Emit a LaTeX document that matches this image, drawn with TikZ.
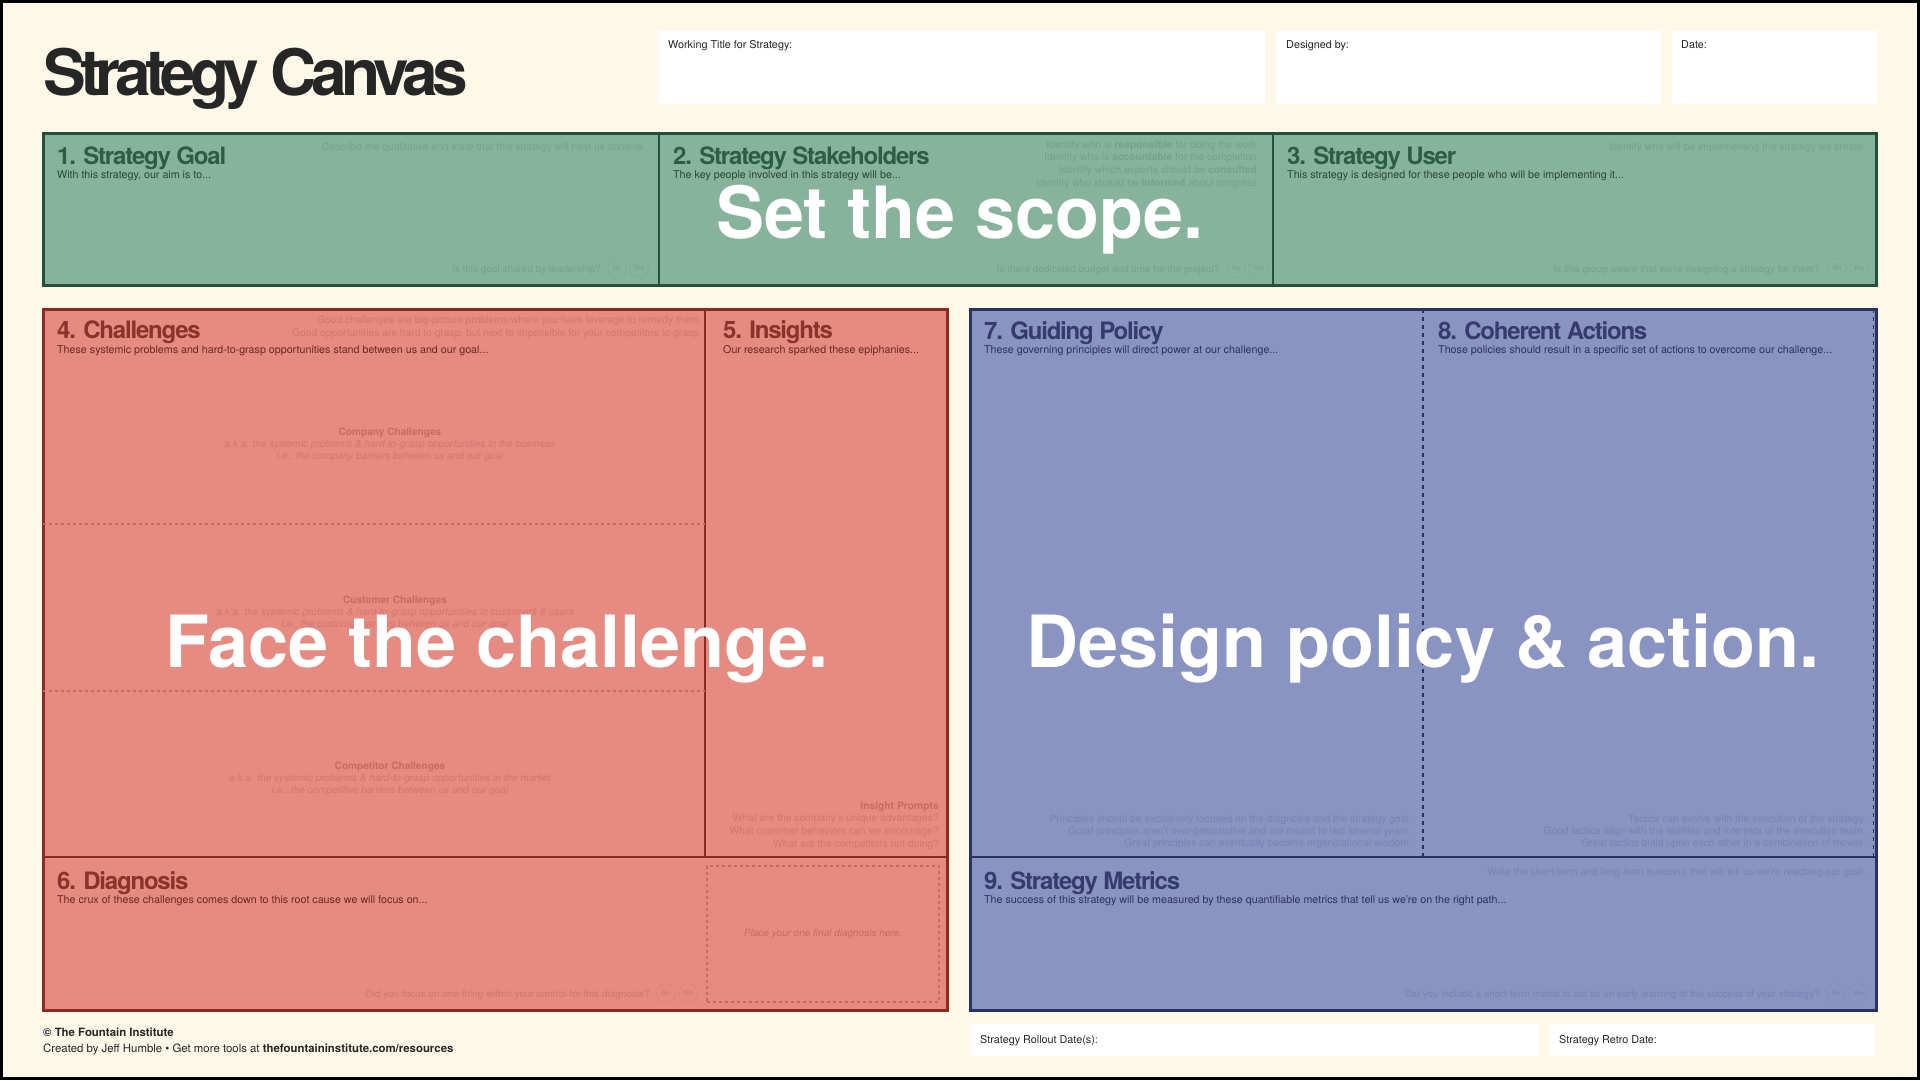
\documentclass[tikz,border=0pt]{standalone}
\usepackage{fontspec}
\setmainfont{TeX Gyre Heros}
\newfontfamily\titlefont[LetterSpace=-9]{TeX Gyre Heros}
\newfontfamily\headfont[LetterSpace=-5]{TeX Gyre Heros}

\definecolor{paper}{HTML}{FEF8E9}
\definecolor{scopeFill}{HTML}{87B39C}
\definecolor{scopeLine}{HTML}{23503A}
\definecolor{scopeInk}{HTML}{2E5D45}
\definecolor{scopeSub}{HTML}{29463A}
\definecolor{scopeFaint}{HTML}{76A28B}
\definecolor{faceFill}{HTML}{E58B82}
\definecolor{faceLine}{HTML}{8A2A20}
\definecolor{faceInk}{HTML}{8A332B}
\definecolor{faceSub}{HTML}{6B2822}
\definecolor{faceFaint}{HTML}{D1776F}
\definecolor{faceMid}{HTML}{C96A62}
\definecolor{designFill}{HTML}{8A94C2}
\definecolor{designLine}{HTML}{2A3060}
\definecolor{designInk}{HTML}{353C6D}
\definecolor{designSub}{HTML}{2B3262}
\definecolor{designFaint}{HTML}{7982B3}

\begin{document}
\begin{tikzpicture}[x=1pt, y=-1pt,
    panel/.style={draw, inner sep=0pt, outer sep=0pt, line width=2pt},
    rim/.style={draw, inner sep=0pt, outer sep=0pt, line width=3pt},
    field/.style={fill=white, inner sep=0pt, outer sep=0pt},
    label/.style={anchor=base west, inner sep=0pt, text=black!85, font=\fontsize{10.8}{12}\selectfont},
    head/.style={anchor=base west, inner sep=0pt, font=\headfont\bfseries\fontsize{24}{26}\selectfont},
    sub/.style={anchor=base west, inner sep=0pt, font=\fontsize{10.7}{12}\selectfont},
    hint/.style={anchor=north east, inner sep=0pt, align=right, font=\fontsize{10.3}{12.7}\selectfont},
    ask/.style={anchor=base east, inner sep=0pt, font=\fontsize{10}{11}\selectfont},
    prompt/.style={anchor=north, inner sep=0pt, align=center, font=\fontsize{10.1}{12}\selectfont},
    tick/.style={circle, draw, densely dotted, line width=0.6pt, minimum size=19pt, inner sep=0pt, font=\fontsize{7}{7}\selectfont},
    motto/.style={anchor=base, inner sep=0pt, text=white, font=\bfseries\fontsize{72}{72}\selectfont}
]
\useasboundingbox (0,0) rectangle (1920,1080);
\fill[paper] (0,0) rectangle (1920,1080);
\draw[line width=3pt] (1.5,1.5) rectangle (1918.5,1078.5);

% Header
\node[anchor=base west, inner sep=0pt, text=black!85, font=\titlefont\bfseries\fontsize{64}{64}\selectfont] (title) at (43,95) {Strategy Canvas};
\node[field, minimum width=607pt, minimum height=73pt] (namefield) at (961.5,67.5) {};
\node[field, minimum width=385pt, minimum height=73pt] (designerfield) at (1468.5,67.5) {};
\node[field, minimum width=205pt, minimum height=73pt] (datefield) at (1774.5,67.5) {};
\node[label] (namelbl) at (668,48) {Working Title for Strategy:};
\node[label] (designerlbl) at (1286,48) {Designed by:};
\node[label] (datelbl) at (1681,48) {Date:};

% Set the scope: three panels
\node[panel, fill=scopeFill, draw=scopeLine, minimum width=616pt, minimum height=152pt] (goal) at (351,209) {};
\node[panel, fill=scopeFill, draw=scopeLine, minimum width=614pt, minimum height=152pt] (stake) at (966,209) {};
\node[panel, fill=scopeFill, draw=scopeLine, minimum width=603pt, minimum height=152pt] (user) at (1574.5,209) {};
\node[rim, draw=scopeLine, minimum width=1833pt, minimum height=152pt] (scope) at (959.5,209) {};

\node[head, text=scopeInk] (goalhead) at (57,164) {1. Strategy Goal};
\node[sub, text=scopeSub] (goalsub) at (57,178) {With this strategy, our aim is to...};
\node[ask, text=scopeFaint, font=\fontsize{10.3}{12}\selectfont] (goalhint) at (646,150) {Describe the qualitative end state that this strategy will help us achieve.};
\node[ask, text=scopeFaint] (goalask) at (601,272) {Is this goal shared by leadership?};
\node[tick, draw=scopeFaint, text=scopeFaint] (goalno) at (617,268) {No};
\node[tick, draw=scopeFaint, text=scopeFaint] (goalyes) at (639,268) {Yes};

\node[head, text=scopeInk] (stakehead) at (673,164) {2. Strategy Stakeholders};
\node[sub, text=scopeSub] (stakesub) at (673,178) {The key people involved in this strategy will be...};
\node[hint, text=scopeFaint] (stakehint) at (1260,140.4) {Identify who is \textbf{responsible} for doing the work.\\
    Identify who is \textbf{accountable} for the completion.\\
    Identify which experts should be \textbf{consulted}.\\
    Identify who should be \textbf{informed} about progress.};
\node[ask, text=scopeFaint] (stakeask) at (1220,272) {Is there dedicated budget and time for the project?};
\node[tick, draw=scopeFaint, text=scopeFaint] (stakeno) at (1236,268) {No};
\node[tick, draw=scopeFaint, text=scopeFaint] (stakeyes) at (1258,268) {Yes};

\node[head, text=scopeInk] (userhead) at (1287,164) {3. Strategy User};
\node[sub, text=scopeSub] (usersub) at (1287,178) {This strategy is designed for these people who will be implementing it...};
\node[ask, text=scopeFaint, font=\fontsize{10.3}{12}\selectfont] (userhint) at (1866,150) {Identify who will be implementing the strategy we create.};
\node[ask, text=scopeFaint] (userask) at (1820,272) {Is this group aware that we’re designing a strategy for them?};
\node[tick, draw=scopeFaint, text=scopeFaint] (userno) at (1837,268) {No};
\node[tick, draw=scopeFaint, text=scopeFaint] (useryes) at (1859,268) {Yes};

% Face the challenge: challenges, insights, diagnosis
\node[panel, fill=faceFill, draw=faceLine, minimum width=662pt, minimum height=548pt] (challenge) at (374,583) {};
\node[panel, fill=faceFill, draw=faceLine, minimum width=242pt, minimum height=548pt] (insight) at (826,583) {};
\node[panel, fill=faceFill, draw=faceLine, minimum width=904pt, minimum height=153pt] (diagnosis) at (495,933.5) {};
\node[rim, draw=faceLine, minimum width=904pt, minimum height=701pt] (face) at (495,659.5) {};
\draw[faceMid, line width=1.2pt, dash pattern=on 3pt off 3pt] (challenge.west |- 0,524) -- (challenge.east |- 0,524);
\draw[faceMid, line width=1.2pt, dash pattern=on 3pt off 3pt] (challenge.west |- 0,691) -- (challenge.east |- 0,691);

\node[head, text=faceInk] (challengehead) at (57,338) {4. Challenges};
\node[sub, text=faceSub] (challengesub) at (57,353) {These systemic problems and hard-to-grasp opportunities stand between us and our goal...};
\node[hint, text=faceFaint] (challengehint) at (702,315.4) {Good challenges are big-picture problems where you have leverage to remedy them.\\
    Good opportunities are hard to grasp, but next to impossible for your competitors to grasp.};
\node[prompt, text=faceFaint] (company) at (390,427.4) {\textcolor{faceMid}{\bfseries Company Challenges}\\
    \itshape a.k.a. the systemic problems \& hard-to-grasp opportunities in the business\\
    \itshape i.e., the company barriers between us and our goal};
\node[prompt, text=faceFaint] (customer) at (395,595.4) {\textcolor{faceMid}{\bfseries Customer Challenges}\\
    \itshape a.k.a. the systemic problems \& hard-to-grasp opportunities in customers \& users\\
    \itshape i.e., the customer barriers between us and our goal};
\node[prompt, text=faceFaint] (competitor) at (390,761.4) {\textcolor{faceMid}{\bfseries Competitor Challenges}\\
    \itshape a.k.a. the systemic problems \& hard-to-grasp opportunities in the market\\
    \itshape i.e., the competitive barriers between us and our goal};

\node[head, text=faceInk] (insighthead) at (723,338) {5. Insights};
\node[sub, text=faceSub] (insightsub) at (723,353) {Our research sparked these epiphanies...};
\node[hint, text=faceFaint] (insighthint) at (939,801.4) {\textcolor{faceMid}{\bfseries Insight Prompts}\\
    What are the company’s unique advantages?\\
    What customer behaviors can we encourage?\\
    What are the competitors not doing?};

\node[head, text=faceInk] (diagnosishead) at (57,889) {6. Diagnosis};
\node[sub, text=faceSub] (diagnosissub) at (57,903) {The crux of these challenges comes down to this root cause we will focus on...};
\node[ask, text=faceFaint] (diagnosisask) at (650,997) {Did you focus on one thing within your control for this diagnosis?};
\node[tick, draw=faceFaint, text=faceFaint] (diagnosisno) at (666,993) {No};
\node[tick, draw=faceFaint, text=faceFaint] (diagnosisyes) at (688,993) {Yes};
\node[draw=faceMid, line width=1.2pt, dash pattern=on 3pt off 3pt, inner sep=0pt, minimum width=232pt, minimum height=136pt,
    text=faceMid, font=\itshape\fontsize{10}{11}\selectfont] (finalbox) at (823,934) {Place your one final diagnosis here.};

% Design policy & action: policy, actions, metrics
\node[panel, fill=designFill, draw=designLine, minimum width=906pt, minimum height=701pt] (design) at (1423,659.5) {};
\node[panel, fill=designFill, draw=designLine, minimum width=906pt, minimum height=153pt] (metrics) at (1423,933.5) {};
\node[rim, draw=designLine, minimum width=906pt, minimum height=701pt] (designrim) at (1423,659.5) {};
\draw[designLine, line width=1.5pt, dash pattern=on 4pt off 4pt] (design.north) -- (design.north |- metrics.north);
\draw[designLine, line width=1pt, dash pattern=on 4pt off 4pt] (1873,309) -- (1873,0 |- metrics.north);

\node[head, text=designInk] (policyhead) at (984,339) {7. Guiding Policy};
\node[sub, text=designSub] (policysub) at (984,353) {These governing principles will direct power at our challenge...};
\node[hint, text=designFaint, font=\fontsize{10.3}{12}\selectfont] (policyhint) at (1412,814.4) {Principles should be exclusively focused on the diagnosis and the strategy goal.\\
    Good principles aren’t over-prescriptive and are meant to last several years.\\
    Great principles can eventually become organizational wisdom.};

\node[head, text=designInk] (actionhead) at (1438,339) {8. Coherent Actions};
\node[sub, text=designSub] (actionsub) at (1438,353) {Those policies should result in a specific set of actions to overcome our challenge...};
\node[hint, text=designFaint, font=\fontsize{10.3}{12}\selectfont] (actionhint) at (1866,814.4) {Tactics can evolve with the execution of the strategy.\\
    Good tactics align with the abilities and interests of the execution team.\\
    Great tactics build upon each other in a combination of moves.};

\node[head, text=designInk] (metricshead) at (984,889) {9. Strategy Metrics};
\node[sub, text=designSub] (metricssub) at (984,903) {The success of this strategy will be measured by these quantifiable metrics that tell us we’re on the right path...};
\node[ask, text=designFaint, font=\fontsize{10.3}{12}\selectfont] (metricshint) at (1866,875) {Write the short-term and long-term numbers that will tell us we’re reaching our goal.};
\node[ask, text=designFaint] (metricsask) at (1820,997) {Did you include a short-term metric to act as an early warning of the success of your strategy?};
\node[tick, draw=designFaint, text=designFaint] (metricsno) at (1836,993) {No};
\node[tick, draw=designFaint, text=designFaint] (metricsyes) at (1858,993) {Yes};

% Big mottos on top
\node[motto] (scopemotto) at (960,238) {Set the scope.};
\node[motto] (facemotto) at (497,667) {Face the challenge.};
\node[motto] (designmotto) at (1423,667) {Design policy \& action.};

% Footer
\node[anchor=base west, inner sep=0pt, text=black!85, font=\bfseries\fontsize{11.4}{13}\selectfont] (credit) at (43,1036) {© The Fountain Institute};
\node[anchor=base west, inner sep=0pt, text=black!85, font=\fontsize{11.4}{13}\selectfont] (tools) at (43,1052) {Created by Jeff Humble \textbullet{} Get more tools at \textbf{thefountaininstitute.com/resources}};
\node[field, minimum width=569pt, minimum height=32pt] (rolloutfield) at (1254.5,1040) {};
\node[field, minimum width=325pt, minimum height=32pt] (retrofield) at (1712.5,1040) {};
\node[label] (rolloutlbl) at (980,1043) {Strategy Rollout Date(s):};
\node[label] (retrolbl) at (1559,1043) {Strategy Retro Date:};
\end{tikzpicture}
\end{document}
